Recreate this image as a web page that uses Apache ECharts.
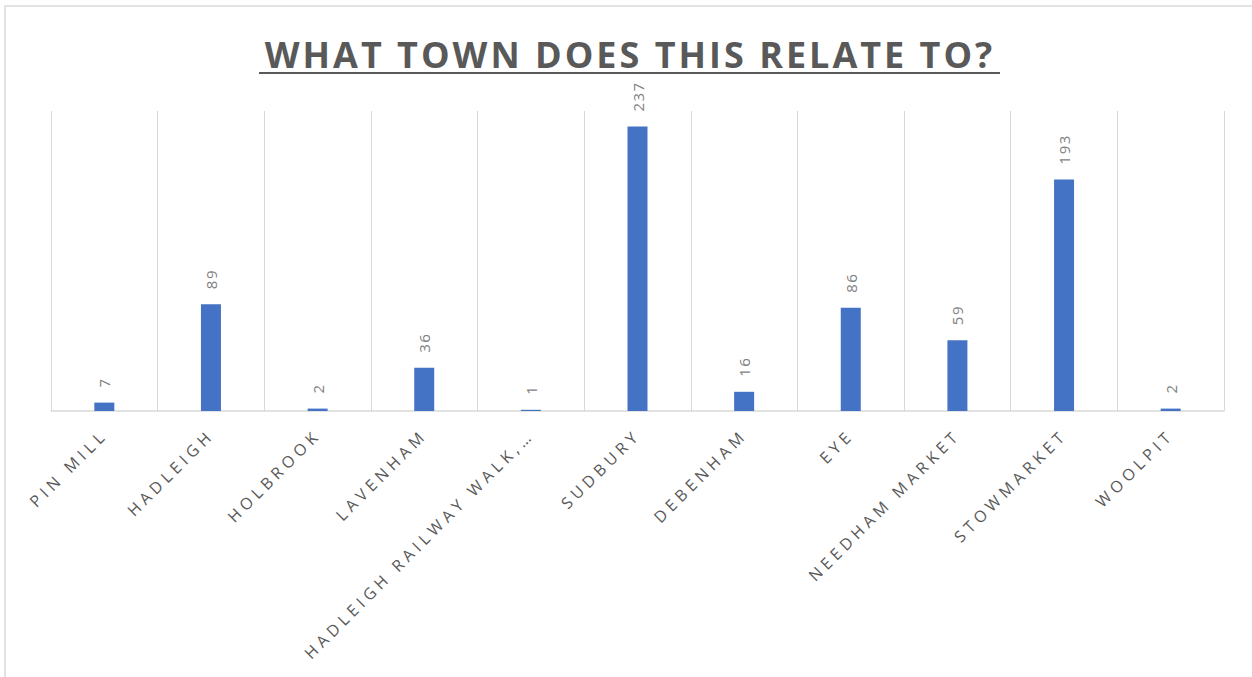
<!DOCTYPE html>
<html>
<head>
<meta charset="utf-8">
<script src="https://cdn.jsdelivr.net/npm/echarts@6/dist/echarts.min.js"></script>
<style>
  html, body { margin: 0; padding: 0; background: #fff; }
  #main { width: 1252px; height: 677px; }
  /* excel style spaced letters */
  #main text { letter-spacing: 4.5px; }
  #main text[style*="36px"] { letter-spacing: 3px; }
  #main text[style*="15px"] { letter-spacing: 1.5px; }
</style>
</head>
<body>
<div id="main"></div>
<script>
// categories and values
var towns = ['PIN MILL', 'HADLEIGH', 'HOLBROOK', 'LAVENHAM', 'HADLEIGH RAILWAY WALK,…',
  'SUDBURY', 'DEBENHAM', 'EYE', 'NEEDHAM MARKET', 'STOWMARKET', 'WOOLPIT'];
var counts = [7, 89, 2, 36, 1, 237, 16, 86, 59, 193, 2];
var titleText = 'WHAT TOWN DOES THIS RELATE TO?';

var chart = echarts.init(document.getElementById('main'), null, { renderer: 'svg' });

var option = {
  backgroundColor: '#fff',
  animation: false,
  graphic: [
    {
      type: 'rect',
      shape: { x: 5, y: 6, width: 1300, height: 700 },
      style: { fill: 'none', stroke: '#d9d9d9', lineWidth: 1.5 }
    },
    {
      type: 'text',
      x: 630,
      y: 54,
      style: {
        text: titleText,
        font: 'bold 36px "Open Sans"',
        fill: '#595959',
        textAlign: 'center',
        textVerticalAlign: 'middle'
      }
    },
    {
      // underline of the title
      type: 'line',
      shape: { x1: 259, y1: 73, x2: 1000, y2: 73 },
      style: { stroke: '#595959', lineWidth: 2 }
    }
  ],
  grid: {
    left: 51,
    right: 28,
    top: 111,
    bottom: 266
  },
  xAxis: {
    type: 'category',
    data: towns,
    axisLine: { lineStyle: { color: '#d9d9d9', width: 1.5 } },
    axisTick: { show: false },
    splitLine: { show: true, interval: 0, lineStyle: { color: '#d9d9d9', width: 1 } },
    axisLabel: {
      interval: 0,
      rotate: 45,
      margin: 21,
      color: '#595959',
      fontSize: 16,
      fontFamily: 'Open Sans'
    }
  },
  yAxis: {
    type: 'value',
    min: 0,
    max: 250,
    show: false,
    splitLine: { show: false }
  },
  series: [
    {
      type: 'bar',
      data: counts,
      barWidth: 20,
      itemStyle: { color: '#4472C4' },
      label: {
        show: true,
        position: 'top',
        rotate: 90,
        align: 'left',
        verticalAlign: 'middle',
        distance: 15,
        color: '#7f7f7f',
        fontSize: 15,
        fontFamily: 'Open Sans'
      }
    }
  ]
};

chart.setOption(option);
</script>
</body>
</html>
